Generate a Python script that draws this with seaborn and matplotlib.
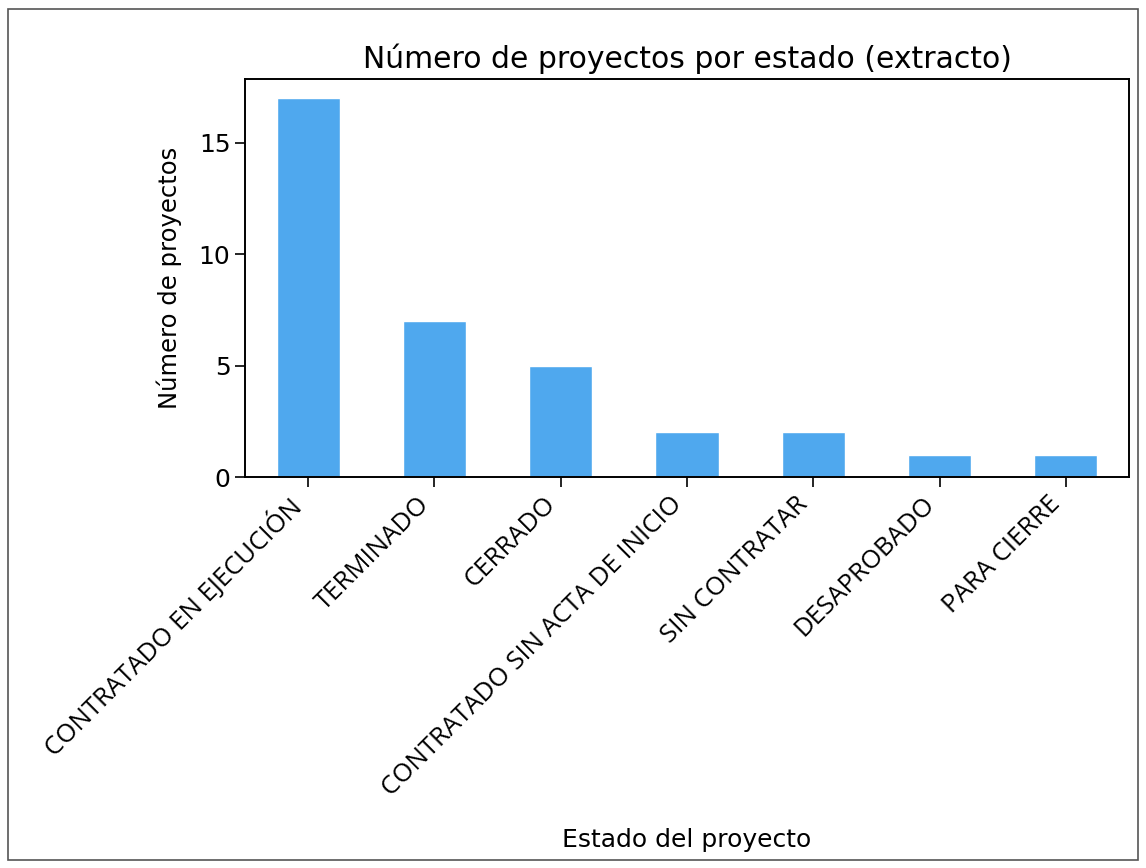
import matplotlib
matplotlib.use("Agg")
import matplotlib.pyplot as plt
import seaborn as sns
import pandas as pd
from matplotlib.patches import Rectangle

estados = ["CONTRATADO EN EJECUCIÓN", "TERMINADO", "CERRADO",
           "CONTRATADO SIN ACTA DE INICIO", "SIN CONTRATAR",
           "DESAPROBADO", "PARA CIERRE"]
conteos = [17, 7, 5, 2, 2, 1, 1]

df = pd.DataFrame({"estado": estados, "n": conteos})

sns.set_style("ticks", {"axes.edgecolor": "black", "xtick.color": "black",
                        "ytick.color": "black", "text.color": "black",
                        "axes.labelcolor": "black"})
plt.rcParams['font.family'] = ['DejaVu Sans']

fig = plt.figure(figsize=(11.46, 8.68), dpi=100)
ax = fig.add_axes([245 / 1146, 1 - 477 / 868, 884 / 1146, 398 / 868])

sns.barplot(data=df, x="estado", y="n", color="#4FA8EE", saturation=1,
            width=0.5, ax=ax)

ax.set_xlim(-0.5, 6.5)
ax.set_ylim(0, 17 * 1.05)
ax.set_yticks([0, 5, 10, 15])
ax.set_title("Número de proyectos por estado (extracto)", fontsize=21.5, pad=8)
ax.set_xlabel("Estado del proyecto", fontsize=18, labelpad=19)
ax.set_ylabel("Número de proyectos", fontsize=17.5, labelpad=12)
ax.tick_params(axis="y", labelsize=18, length=7, width=1.2)
ax.tick_params(axis="x", length=7, width=1.2)
plt.setp(ax.get_xticklabels(), rotation=45, ha="right",
         family=["Open Sans", "DejaVu Sans"], fontsize=18.5)
for s in ax.spines.values():
    s.set_visible(True)
    s.set_linewidth(1.4)

fig.patches.append(Rectangle((8 / 1146, 8 / 868), 1 - 16 / 1146, 1 - 17 / 868,
                             transform=fig.transFigure, fill=False,
                             edgecolor="#555555", linewidth=1.2))

fig.savefig("out.png", dpi=100)
